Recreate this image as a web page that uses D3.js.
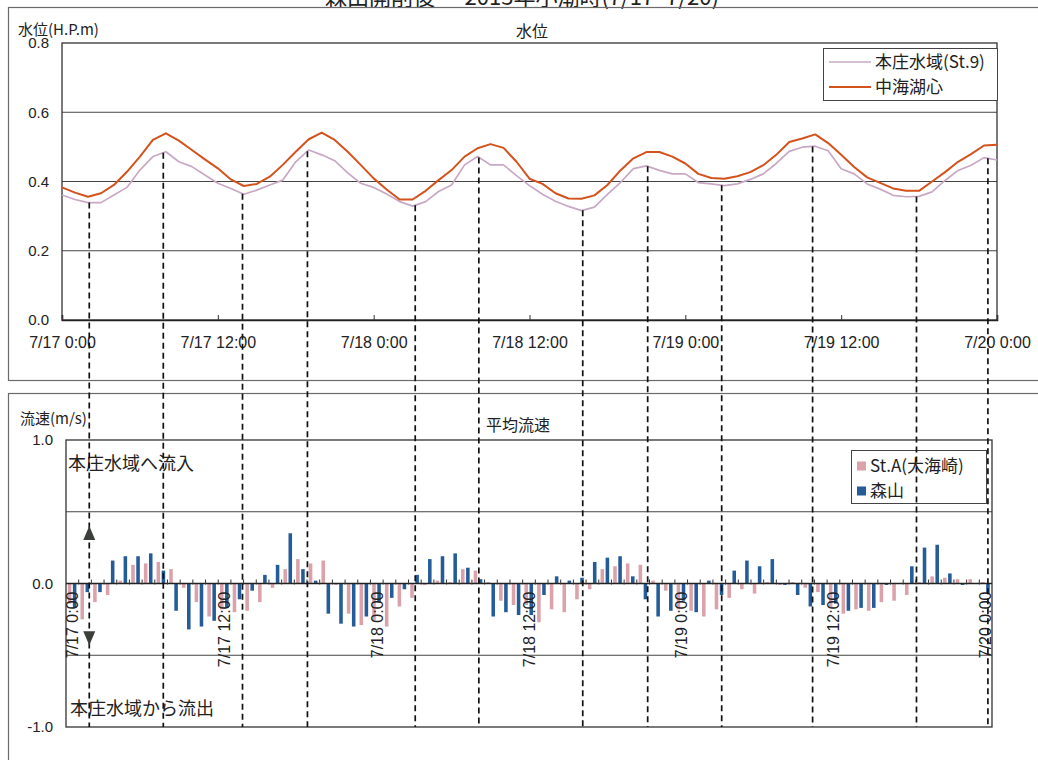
<!DOCTYPE html>
<html>
<head>
<meta charset="utf-8">
<script src="https://cdn.jsdelivr.net/npm/d3@7"></script>
<style>
  html, body { margin: 0; padding: 0; background: #fff; }
  svg { display: block; }
  text { font-family: "Liberation Sans", Arial, "Noto Sans CJK JP", sans-serif; fill: #222; }
  .jp { font-family: "Noto Sans CJK JP", "Liberation Sans", sans-serif; }
</style>
</head>
<body>
<svg id="chart" width="1038" height="760"></svg>
<script>
// ---- data ----------------------------------------------------------
// hourly steps from 7/17 0:00 to 7/20 0:00
const hours = d3.range(0, 73);

// water level (H.P. m), 本庄水域(St.9)
const levelHonjo = [
  0.361, 0.348, 0.339, 0.339, 0.361, 0.383, 0.433, 0.472, 0.486, 0.457, 0.443, 0.419,
  0.395, 0.380, 0.363, 0.375, 0.390, 0.404, 0.457, 0.491, 0.477, 0.460, 0.425, 0.395,
  0.383, 0.364, 0.342, 0.329, 0.342, 0.371, 0.390, 0.448, 0.472, 0.448, 0.448, 0.417,
  0.388, 0.363, 0.343, 0.328, 0.316, 0.326, 0.363, 0.397, 0.437, 0.445, 0.432, 0.422,
  0.422, 0.397, 0.393, 0.388, 0.393, 0.406, 0.422, 0.452, 0.487, 0.499, 0.502, 0.489,
  0.437, 0.422, 0.393, 0.378, 0.360, 0.356, 0.357, 0.370, 0.403, 0.432, 0.447, 0.469,
  0.462
];

// water level (H.P. m), 中海湖心
const levelNakaumi = [
  0.383, 0.368, 0.356, 0.366, 0.390, 0.428, 0.472, 0.520, 0.539, 0.518, 0.491, 0.464,
  0.438, 0.406, 0.387, 0.393, 0.414, 0.448, 0.486, 0.522, 0.541, 0.520, 0.486, 0.448,
  0.409, 0.377, 0.348, 0.348, 0.373, 0.404, 0.433, 0.472, 0.496, 0.508, 0.497, 0.457,
  0.408, 0.393, 0.366, 0.351, 0.350, 0.360, 0.390, 0.432, 0.467, 0.485, 0.485, 0.472,
  0.452, 0.422, 0.410, 0.408, 0.415, 0.427, 0.447, 0.477, 0.514, 0.524, 0.536, 0.511,
  0.477, 0.442, 0.412, 0.396, 0.380, 0.373, 0.373, 0.400, 0.427, 0.457, 0.479, 0.504,
  0.506
];

// mean current speed (m/s), St.A(大海崎)
const flowStA = [
  -0.14, -0.25, -0.13, -0.08,  0.02,  0.13,  0.14,  0.15,  0.10, -0.03, -0.13, -0.23,
  -0.18, -0.20, -0.19, -0.13, -0.03,  0.10,  0.17,  0.14,  0.16, -0.01, -0.21, -0.29,
  -0.26, -0.30, -0.16, -0.10, -0.01,  0.02,  0.01,  0.10,  0.09,  0.01, -0.12, -0.15,
  -0.15, -0.27, -0.18, -0.20, -0.11, -0.04,  0.10,  0.12,  0.14,  0.13,  0.02, -0.05,
  -0.18, -0.19, -0.23, -0.18, -0.10, -0.04, -0.07,  0.01, -0.01,  0.01, -0.03, -0.06,
  -0.17, -0.21, -0.18, -0.19, -0.13, -0.12, -0.08,  0.01,  0.05,  0.04,  0.03,  0.03,
   0.01
];

// mean current speed (m/s), 森山
const flowMoriyama = [
  -0.17, -0.06, -0.06,  0.16,  0.19,  0.19,  0.21,  0.09, -0.19, -0.32, -0.30, -0.26,
  -0.17, -0.11, -0.05,  0.06,  0.13,  0.35,  0.10,  0.02, -0.21, -0.28, -0.30, -0.23,
  -0.13, -0.10, -0.04,  0.06,  0.17,  0.19,  0.21,  0.11,  0.03, -0.23, -0.20, -0.22,
  -0.22, -0.08,  0.05,  0.02,  0.04,  0.15,  0.18,  0.19,  0.05, -0.11, -0.23, -0.19,
  -0.12, -0.20,  0.02, -0.08,  0.09,  0.16,  0.12,  0.17, -0.01, -0.08, -0.16, -0.15,
  -0.14, -0.19, -0.17, -0.17, -0.01,  0.00,  0.12,  0.25,  0.27,  0.07, -0.01,  0.00,
  -0.07
];

// times (hours from 7/17 0:00) of high / low water marked by dashed guides
const tideTimes = [2.1, 7.8, 13.9, 18.9, 27.2, 32.1, 40.1, 45.1, 50.8, 57.8, 65.8, 71.3];

const tickHours  = [0, 12, 24, 36, 48, 60, 72];
const tickLabels = ["7/17 0:00", "7/17 12:00", "7/18 0:00", "7/18 12:00", "7/19 0:00", "7/19 12:00", "7/20 0:00"];
const levelTicks = [0.0, 0.2, 0.4, 0.6, 0.8];
const flowTicks  = [1.0, 0.0, -1.0];
const flowGrid   = [0.5, -0.5];

const seriesLevel = [
  { name: "本庄水域(St.9)", values: levelHonjo,   color: "#c8a8c4", width: 1.7 },
  { name: "中海湖心",       values: levelNakaumi, color: "#d4521c", width: 2.0 }
];
const seriesFlow = [
  { key: "a", name: "St.A(大海崎)", values: flowStA,      color: "#dba2aa" },
  { key: "m", name: "森山",         values: flowMoriyama, color: "#245c98" }
];

// ---- drawing ------------------------------------------------------
const svg = d3.select("#chart");
const frameColor = "#6a6a6a";
const numFont = "Liberation Sans, Arial, sans-serif";

// page title (sits above the frames)
svg.append("text").attr("class", "jp")
  .attr("x", 522).attr("y", 5).attr("text-anchor", "middle")
  .style("font-size", "22px")
  .text("森山開削後 — 2013年小潮時(7/17~7/20)");

// outer frames of the two panels
svg.append("rect").attr("x", 8.5).attr("y", 7.5).attr("width", 1040).attr("height", 373)
  .attr("fill", "none").attr("stroke", frameColor).attr("stroke-width", 1.2);
svg.append("rect").attr("x", 8.5).attr("y", 393.5).attr("width", 1040).attr("height", 380)
  .attr("fill", "none").attr("stroke", frameColor).attr("stroke-width", 1.2);

// ===== water level panel =====
const T = { left: 62, right: 997, top: 43, bottom: 320 };
const xT = d3.scaleLinear().domain([0, 72]).range([T.left, T.right]);
const yT = d3.scaleLinear().domain([0, 0.8]).range([T.bottom, T.top]);

const gT = svg.append("g");
// gridlines
gT.selectAll("line.grid").data(levelTicks.filter(v => v > 0 && v < 0.8)).join("line")
  .attr("x1", T.left).attr("x2", T.right)
  .attr("y1", d => yT(d)).attr("y2", d => yT(d))
  .attr("stroke", "#444").attr("stroke-width", 1);
// plot border
gT.append("rect").attr("x", T.left).attr("y", T.top)
  .attr("width", T.right - T.left).attr("height", T.bottom - T.top)
  .attr("fill", "none").attr("stroke", "#333").attr("stroke-width", 1.3);

// y axis labels
gT.selectAll("text.ytick").data(levelTicks).join("text")
  .attr("x", 49).attr("y", d => yT(d)).attr("dy", "0.36em")
  .attr("text-anchor", "end").style("font-size", "15px").style("font-family", numFont)
  .text(d => d.toFixed(1));

// x axis ticks (inward) and labels
const xAxisT = d3.axisBottom(xT).tickValues(tickHours).tickSize(-5)
  .tickFormat((d, i) => tickLabels[i]);
const axT = gT.append("g").attr("transform", `translate(0,${T.bottom})`).call(xAxisT);
axT.select(".domain").attr("stroke", "#222").attr("stroke-width", 1.6);
axT.selectAll(".tick line").attr("stroke", "#333");
axT.selectAll(".tick text").attr("y", 14).attr("dy", "0.9em")
  .style("font-size", "16px").style("font-family", numFont).attr("fill", "#222");

// level lines
const lineT = d3.line().x((d, i) => xT(hours[i])).y(d => yT(d));
gT.selectAll("path.level").data(seriesLevel).join("path")
  .attr("d", d => lineT(d.values))
  .attr("fill", "none").attr("stroke", d => d.color).attr("stroke-width", d => d.width)
  .attr("stroke-linejoin", "round");

// titles
gT.append("text").attr("class", "jp").attr("x", 18).attr("y", 35)
  .style("font-size", "15px").text("水位(H.P.m)");
gT.append("text").attr("class", "jp").attr("x", 532).attr("y", 37)
  .attr("text-anchor", "middle").style("font-size", "16px").text("水位");

// legend
const lgT = gT.append("g");
lgT.append("rect").attr("x", 823.5).attr("y", 48.5).attr("width", 174).attr("height", 52)
  .attr("fill", "#fff").attr("stroke", "#444").attr("stroke-width", 1);
seriesLevel.forEach((s, i) => {
  const y = 62 + i * 25;
  lgT.append("line").attr("x1", 829).attr("x2", 871).attr("y1", y).attr("y2", y)
    .attr("stroke", s.color).attr("stroke-width", s.width);
  lgT.append("text").attr("class", "jp").attr("x", 875).attr("y", y).attr("dy", "0.36em")
    .style("font-size", "17px").text(s.name);
});

// ===== current speed panel =====
const B = { left: 66, right: 992, top: 440, bottom: 727 };
const xB = d3.scaleBand().domain(hours).range([B.left, B.right]).padding(0);
const cell = xB.bandwidth();
const xSub = d3.scaleBand().domain(seriesFlow.map(s => s.key))
  .range([cell * 0.14, cell * 0.82]).paddingInner(0.3).paddingOuter(0);
const yB = d3.scaleLinear().domain([-1, 1]).range([B.bottom, B.top]);

const gB = svg.append("g");
gB.selectAll("line.grid").data(flowGrid).join("line")
  .attr("x1", B.left).attr("x2", B.right)
  .attr("y1", d => yB(d)).attr("y2", d => yB(d))
  .attr("stroke", "#444").attr("stroke-width", 1);
gB.append("rect").attr("x", B.left).attr("y", B.top)
  .attr("width", B.right - B.left).attr("height", B.bottom - B.top)
  .attr("fill", "none").attr("stroke", "#333").attr("stroke-width", 1.3);

// bars
seriesFlow.forEach(s => {
  gB.append("g").selectAll("rect").data(s.values).join("rect")
    .attr("x", (d, i) => xB(hours[i]) + xSub(s.key))
    .attr("width", xSub.bandwidth())
    .attr("y", d => yB(Math.max(0, d)))
    .attr("height", d => Math.abs(yB(d) - yB(0)))
    .attr("fill", s.color);
});

// zero line with category ticks
gB.append("line").attr("x1", B.left).attr("x2", B.right)
  .attr("y1", yB(0)).attr("y2", yB(0)).attr("stroke", "#222").attr("stroke-width", 1.3);
gB.selectAll("line.ctick").data(hours.slice(1)).join("line")
  .attr("x1", d => xB(d)).attr("x2", d => xB(d))
  .attr("y1", yB(0) - 4).attr("y2", yB(0) + 1)
  .attr("stroke", "#333").attr("stroke-width", 1);

// y axis labels
gB.selectAll("text.ytick").data(flowTicks).join("text")
  .attr("x", 53).attr("y", d => yB(d)).attr("dy", "0.36em")
  .attr("text-anchor", "end").style("font-size", "15px").style("font-family", numFont)
  .text(d => d.toFixed(1));

// rotated category labels
gB.selectAll("text.xlab").data(tickHours).join("text")
  .attr("transform", d => `translate(${xB(d) + cell / 2},${yB(0) + 8}) rotate(-90)`)
  .attr("dy", "0.36em").attr("text-anchor", "end")
  .style("font-size", "16px").style("font-family", numFont)
  .text((d, i) => tickLabels[i]);

// titles and notes
gB.append("text").attr("class", "jp").attr("x", 20).attr("y", 424)
  .style("font-size", "15px").text("流速(m/s)");
gB.append("text").attr("class", "jp").attr("x", 518).attr("y", 431)
  .attr("text-anchor", "middle").style("font-size", "16px").text("平均流速");
gB.append("text").attr("class", "jp").attr("x", 68).attr("y", 470)
  .style("font-size", "18px").text("本庄水域へ流入");
gB.append("text").attr("class", "jp").attr("x", 70).attr("y", 715)
  .style("font-size", "18px").text("本庄水域から流出");

// legend
const lgB = gB.append("g");
lgB.append("rect").attr("x", 851.5).attr("y", 450.5).attr("width", 135).attr("height", 53)
  .attr("fill", "#fff").attr("stroke", "#444").attr("stroke-width", 1);
seriesFlow.forEach((s, i) => {
  const y = 466 + i * 25;
  lgB.append("rect").attr("x", 857).attr("y", y - 4.5).attr("width", 9).attr("height", 9)
    .attr("fill", s.color);
  lgB.append("text").attr("class", "jp").attr("x", 870).attr("y", y).attr("dy", "0.36em")
    .style("font-size", "17px").text(s.name);
});

// ===== dashed guides at high / low water, across both panels =====
function levelAt(t) {
  const i = Math.min(Math.floor(t), 71);
  const f = t - i;
  return levelHonjo[i] * (1 - f) + levelHonjo[i + 1] * f;
}
svg.append("g").selectAll("line").data(tideTimes).join("line")
  .attr("x1", d => xT(d)).attr("x2", d => xT(d))
  .attr("y1", d => yT(levelAt(d))).attr("y2", B.bottom)
  .attr("stroke", "#111").attr("stroke-width", 1.7)
  .attr("stroke-dasharray", "6,4");

// double-headed arrow showing inflow / outflow direction
const arrowX = xT(tideTimes[0]);
const arrowTips = [0.40, -0.43];
svg.append("g").selectAll("path").data(arrowTips).join("path")
  .attr("d", d => {
    const tip = yB(d), dir = d > 0 ? 1 : -1, base = tip + dir * 14;
    return `M${arrowX},${tip} L${arrowX - 6},${base} L${arrowX + 6},${base} Z`;
  })
  .attr("fill", "#3a3f3a");
</script>
</body>
</html>
